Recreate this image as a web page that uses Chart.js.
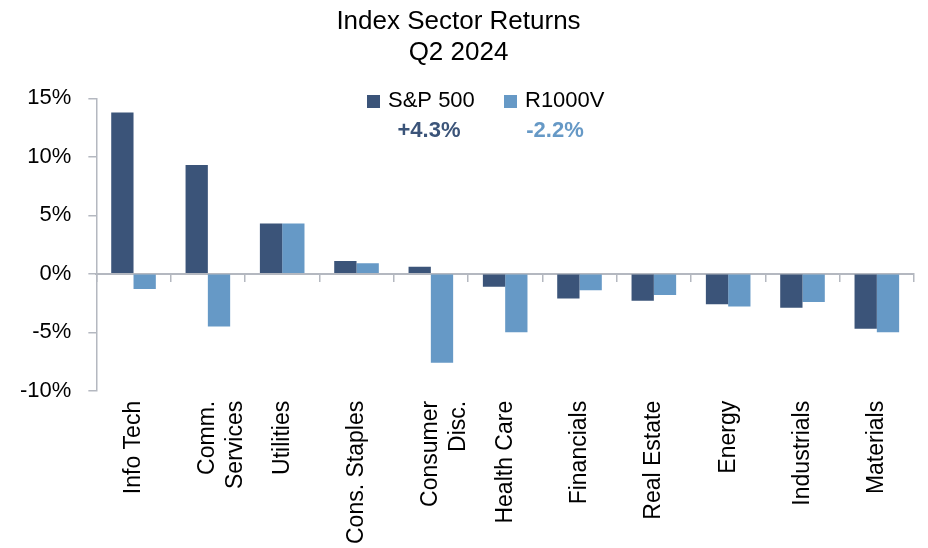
<!DOCTYPE html>
<html>
<head>
<meta charset="utf-8">
<script src="https://cdn.jsdelivr.net/npm/chart.js@4/dist/chart.umd.min.js"></script>
<style>
  html, body { margin: 0; padding: 0; background: #fff; }
  #wrap { width: 928px; height: 548px; }
</style>
</head>
<body>
<div id="wrap"><canvas id="chart"></canvas></div>
<script>
'use strict';

var categories = ['Info Tech', ['Comm.', 'Services'], 'Utilities', 'Cons. Staples', ['Consumer', 'Disc.'],
    'Health Care', 'Financials', 'Real Estate', 'Energy', 'Industrials', 'Materials'];
var sp500 = [13.8, 9.3, 4.3, 1.1, 0.6, -1.1, -2.1, -2.3, -2.6, -2.9, -4.7];
var r1000v = [-1.3, -4.5, 4.3, 0.9, -7.6, -5.0, -1.4, -1.8, -2.8, -2.4, -5.0];
var seriesNames = ['S&P 500', 'R1000V'];
var seriesTotals = ['+4.3%', '-2.2%'];
var titleLines = ['Index Sector Returns', 'Q2 2024'];

var DARK = '#3b5479';
var LIGHT = '#6699c6';
var AXIS = '#b4b8c0';
var FONT = "'Liberation Sans', Arial, sans-serif";

// legend with quarter totals, drawn inside the plot like the original
var legendPlugin = {
    id: 'totalsLegend',
    afterDraw: function (chart) {
        var ctx = chart.ctx;
        var colors = [DARK, LIGHT];
        var boxX = [367, 504];
        var totalX = [429, 555];
        ctx.save();
        for (var i = 0; i < seriesNames.length; i++) {
            ctx.fillStyle = colors[i];
            ctx.fillRect(boxX[i], 95, 13, 13);
            ctx.fillStyle = '#000';
            ctx.font = '22px ' + FONT;
            ctx.textAlign = 'left';
            ctx.textBaseline = 'middle';
            ctx.fillText(seriesNames[i], boxX[i] + 21, 101);
            ctx.fillStyle = colors[i];
            ctx.font = 'bold 22px ' + FONT;
            ctx.textAlign = 'center';
            ctx.fillText(seriesTotals[i], totalX[i], 131);
        }
        ctx.restore();
    }
};

var chart = new Chart(document.getElementById('chart').getContext('2d'), {
    type: 'bar',
    data: {
        labels: categories,
        datasets: [
            { label: seriesNames[0], data: sp500, backgroundColor: DARK },
            { label: seriesNames[1], data: r1000v, backgroundColor: LIGHT }
        ]
    },
    options: {
        responsive: true,
        maintainAspectRatio: false,
        animation: false,
        categoryPercentage: 0.6,
        barPercentage: 1.0,
        layout: { padding: { left: 3, right: 14, top: 0, bottom: -6 } },
        plugins: {
            legend: { display: false },
            tooltip: { enabled: false },
            title: {
                display: true,
                text: titleLines,
                color: '#000',
                font: { family: FONT, size: 26, weight: 'normal', lineHeight: 1.2 },
                padding: { top: 6, bottom: 30 }
            }
        },
        scales: {
            x: {
                type: 'category',
                position: 'bottom',
                offset: true,
                grid: { display: false, drawTicks: false },
                border: { display: false },
                ticks: {
                    color: '#000',
                    font: { family: FONT, size: 23 },
                    maxRotation: 90,
                    minRotation: 90,
                    autoSkip: false,
                    padding: 10
                }
            },
            // zero line with tick marks between sectors
            x2: {
                type: 'category',
                axis: 'x',
                position: { y: 0 },
                offset: true,
                grid: { offset: true, drawOnChartArea: false, drawTicks: true, tickLength: 7, color: AXIS, lineWidth: 1.5 },
                border: { display: true, color: AXIS, width: 2 },
                ticks: {
                    display: true,
                    autoSkip: false,
                    maxRotation: 0,
                    minRotation: 0,
                    padding: 0,
                    font: { size: 1 },
                    color: 'rgba(0,0,0,0)',
                    callback: function () { return ''; }
                }
            },
            y: {
                min: -10,
                max: 15,
                grid: { drawOnChartArea: false, drawTicks: true, tickLength: 8, color: AXIS, lineWidth: 1.5 },
                border: { display: true, color: AXIS, width: 1.5 },
                ticks: {
                    stepSize: 5,
                    color: '#000',
                    padding: 17,
                    font: { family: FONT, size: 22 },
                    callback: function (v) { return v + '%'; }
                }
            }
        }
    },
    plugins: [legendPlugin]
});
</script>
</body>
</html>
